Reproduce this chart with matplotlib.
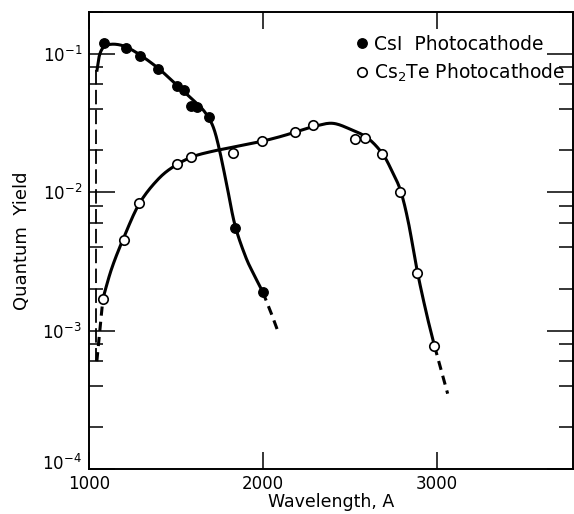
import matplotlib
matplotlib.use('Agg')
import matplotlib.pyplot as plt
import matplotlib.transforms as mtransforms
from matplotlib.ticker import LogLocator, NullFormatter
import numpy as np

plt.rcParams['font.family'] = ['DejaVu Sans']
plt.rcParams['mathtext.default'] = 'regular'

# measured points
csi_wl = [1086, 1212, 1293, 1396, 1505, 1545, 1585, 1620, 1688, 1838, 1998]
csi_qy = [0.120, 0.110, 0.097, 0.077, 0.058, 0.055, 0.042, 0.041, 0.035, 0.0055, 0.0019]

cs2te_wl = [1080, 1200, 1287, 1505, 1585, 1826, 1991, 2186, 2284, 2530, 2587, 2685, 2788, 2885, 2983]
cs2te_qy = [0.0017, 0.0045, 0.0083, 0.0159, 0.018, 0.0192, 0.0234, 0.0272, 0.0306,
            0.0242, 0.0246, 0.019, 0.010, 0.0026, 0.00077]

# hand-drawn fit curves
csi_fit_wl = [1046, 1058, 1075, 1100, 1150, 1212, 1293, 1400, 1500, 1600, 1650, 1690,
              1720, 1750, 1790, 1838, 1900, 1950, 1998]
csi_fit_qy = [0.076, 0.095, 0.108, 0.115, 0.117, 0.112, 0.098, 0.078, 0.060, 0.046,
              0.040, 0.034, 0.028, 0.020, 0.0115, 0.0058, 0.0034, 0.0025, 0.0019]
csi_tail_wl = [1998, 2050, 2090]
csi_tail_qy = [0.0019, 0.0013, 0.00095]
csi_edge_wl = [1042, 1042]
csi_edge_qy = [0.076, 0.0006]

cs2te_fit_wl = [1080, 1130, 1200, 1290, 1400, 1500, 1600, 1700, 1800, 1900, 2000, 2100,
                2200, 2300, 2400, 2500, 2600, 2685, 2740, 2790, 2835, 2885, 2940, 2985]
cs2te_fit_qy = [0.0017, 0.0028, 0.0047, 0.0083, 0.0125, 0.0157, 0.0181, 0.0196, 0.0208,
                0.022, 0.0234, 0.0252, 0.0275, 0.0300, 0.0314, 0.0285, 0.0246, 0.0190,
                0.0142, 0.0102, 0.0060, 0.0027, 0.0013, 0.00077]
cs2te_head_wl = [1045, 1080]
cs2te_head_qy = [0.0006, 0.0017]
cs2te_tail_wl = [2985, 3060]
cs2te_tail_qy = [0.00077, 0.00035]


def smooth(wl, qy, n=16):
    # Catmull-Rom through the curve, in (wavelength, log yield) space
    p = np.column_stack([np.asarray(wl) / 1000.0, np.log10(qy)])
    p = np.vstack([p[0], p, p[-1]])
    t = np.linspace(0, 1, n, endpoint=False)[:, None]
    segs = []
    for i in range(1, len(p) - 2):
        p0, p1, p2, p3 = p[i - 1], p[i], p[i + 1], p[i + 2]
        segs.append(0.5 * (2 * p1 + (-p0 + p2) * t
                           + (2 * p0 - 5 * p1 + 4 * p2 - p3) * t ** 2
                           + (-p0 + 3 * p1 - 3 * p2 + p3) * t ** 3))
    segs.append(p[-2][None])
    out = np.vstack(segs)
    return out[:, 0] * 1000.0, 10 ** out[:, 1]


fig = plt.figure(figsize=(5.74, 5.14), dpi=100)
ax = fig.add_axes([89 / 574, 45 / 514, 484 / 574, 457 / 514])

lw = 2.2
x, y = smooth(csi_fit_wl, csi_fit_qy)
ax.plot(x, y, color='black', lw=lw, zorder=2)
ax.plot(csi_tail_wl, csi_tail_qy, color='black', lw=lw, ls=(0, (3, 2)), zorder=2)
ax.plot(csi_edge_wl, csi_edge_qy, color='black', lw=1.3, ls=(0, (8, 3)), zorder=2)

x, y = smooth(cs2te_fit_wl, cs2te_fit_qy)
ax.plot(x, y, color='black', lw=lw, zorder=2)
ax.plot(cs2te_head_wl, cs2te_head_qy, color='black', lw=lw, ls=(0, (3, 2)), zorder=2)
ax.plot(cs2te_tail_wl, cs2te_tail_qy, color='black', lw=lw, ls=(0, (3, 2)), zorder=2)

ax.plot(csi_wl, csi_qy, 'o', color='black', ms=6.8, zorder=3,
        label='CsI  Photocathode')
ax.plot(cs2te_wl, cs2te_qy, 'o', mfc='white', mec='black', mew=1.2, ms=6.8, zorder=3,
        label='Cs$_2$Te Photocathode')

ax.set_yscale('log')
ax.set_xlim(1000, 3780)
ax.set_ylim(1e-4, 0.2)
ax.set_xticks([1000, 2000, 3000])
ax.set_yticks([1e-4, 1e-3, 1e-2, 1e-1])
ax.set_yticklabels(['$10^{-4}$', '$10^{-3}$', '$10^{-2}$', '$10^{-1}$'])
ax.yaxis.set_minor_locator(LogLocator(base=10, subs=[2, 4, 6, 8]))
ax.yaxis.set_minor_formatter(NullFormatter())

ax.tick_params(which='both', direction='in', top=True, right=True, width=1.1,
               labelsize=12, colors='black')
ax.tick_params(axis='y', which='major', length=19, pad=5)
ax.tick_params(axis='y', which='minor', length=10)
ax.tick_params(axis='x', which='major', length=12, pad=4)
for s in ax.spines.values():
    s.set_linewidth(1.4)

# lift the bottom y label a little so it clears the "1000" below it
bottom_lbl = ax.get_yticklabels()[0]
bottom_lbl.set_transform(bottom_lbl.get_transform()
                         + mtransforms.ScaledTranslation(0, 5 / 72, fig.dpi_scale_trans))

ax.set_xlabel('Wavelength, A', fontsize=12.5, labelpad=0)
ax.set_ylabel('Quantum  Yield', fontsize=13, labelpad=8)

ax.legend(loc='upper left', bbox_to_anchor=(0.552, 0.95), frameon=False,
          fontsize=13.5, handlelength=0.6, handletextpad=0.35, labelspacing=0.4,
          borderpad=0, borderaxespad=0)

fig.savefig('out.png', dpi=100)
